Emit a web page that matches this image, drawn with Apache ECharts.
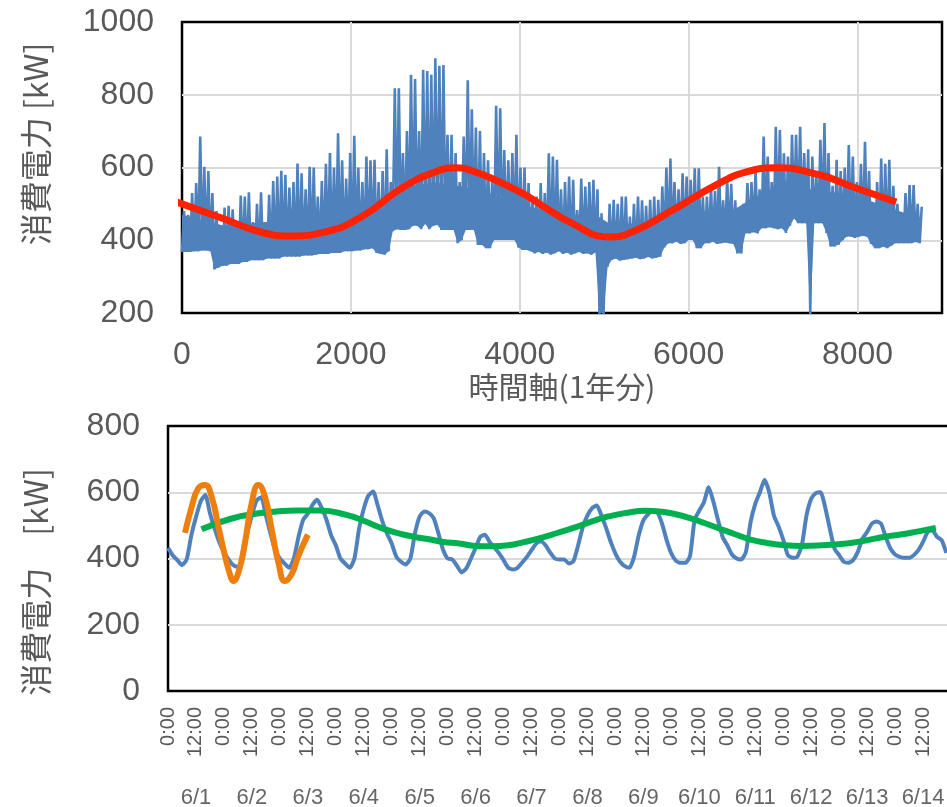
<!DOCTYPE html>
<html><head><meta charset="utf-8">
<script src="https://cdn.jsdelivr.net/npm/echarts@6/dist/echarts.min.js"></script>
<style>html,body{margin:0;padding:0;background:#fff}#c{width:947px;height:807px}</style>
</head><body><div id="c"></div>
<script>
// ---- Top chart: one year of hourly load, read as low/high pairs every 48 h ----
const YEAR_STEP = 48;
const yearLow = [
368,368,368,370,370,372,372,370,320,325,
330,330,335,335,335,340,340,345,345,345,
345,350,350,350,350,355,355,355,355,355,
358,358,358,360,362,362,362,365,365,365,
370,370,370,372,372,375,375,378,365,362,
360,370,425,430,428,428,430,440,440,430,
445,430,440,442,428,428,428,428,392,400,
428,428,428,387,387,378,378,401,401,401,
401,401,401,380,373,373,370,364,368,362,
366,360,364,370,362,366,360,364,368,362,
364,360,366,195,195,327,346,350,344,346,
348,350,352,348,350,354,350,352,355,380,
392,392,396,390,392,401,401,378,378,392,
392,396,390,392,394,392,390,364,364,419,
419,422,419,433,433,436,433,430,433,420,
440,460,447,447,447,195,447,447,447,420,
383,383,388,400,410,410,406,410,412,410,
390,378,378,382,378,385,392,392,392,392,
392,395,392];
const yearHigh = [
480,470,530,557,685,602,590,530,480,440,
490,495,485,400,523,520,532,450,500,532,
450,525,563,575,591,580,545,560,611,584,
540,602,600,520,563,610,640,600,694,620,
570,640,687,600,560,630,620,621,560,590,
650,560,818,818,640,700,855,843,700,869,
865,855,900,880,882,690,690,640,560,685,
840,760,710,700,640,620,560,770,763,648,
620,640,690,600,600,557,520,520,557,530,
639,630,621,540,560,575,566,483,570,548,
560,566,540,474,440,500,511,500,520,520,
465,500,520,510,495,511,520,511,548,600,
625,560,540,584,575,566,598,598,520,520,
548,535,602,510,575,555,510,447,500,557,
560,593,540,685,630,560,712,703,639,630,
690,690,712,640,650,630,575,676,722,640,
550,621,590,600,662,630,560,610,671,590,
500,560,625,610,621,550,500,440,530,552,
552,500,492];
// top of the dense (solid) part of the band, read coarsely
const coreHours = [0,500,1000,1500,2000,2400,2500,3000,3500,4000,4500,4900,5100,5500,6000,6500,6800,7000,7500,8000,8500,8760];
const coreTop   = [470,440,450,460,480,500,540,560,540,500,470,470,440,450,480,480,520,540,540,520,480,460];
// red seasonal curve drawn over the top chart
const trendHours  = [-60,470,940,1280,1700,2150,2600,3000,3250,3407,4000,4294,4590,5063,5383,5773,6365,6684,7015,7548,7938,8458];
const trendValues = [505,461,422,412,423,468,543,588,599,593,533,491,450,409,428,478,557,588,599,580,547,505];

// ---- Bottom chart: two weeks (6/1 - 6/14), read every 2 hours ----
const WEEK_STEP = 2;
const weekValues = [
432,410,395,380,397,470,525,572,592,537,490,450,
420,397,380,375,397,475,530,575,585,530,475,425,
400,385,372,400,465,517,535,562,577,552,517,470,
440,400,385,372,400,490,550,590,602,560,512,475,
445,405,390,382,400,477,527,542,537,522,477,427,
400,397,378,358,370,400,432,465,472,450,434,416,
395,372,367,372,388,405,425,445,452,440,418,400,
397,397,385,392,440,495,530,552,560,530,492,450,
415,390,377,372,405,470,515,533,545,540,505,455,
415,393,387,387,407,517,545,570,615,572,517,465,
440,412,400,397,420,510,565,600,638,600,530,497,
457,410,402,405,440,530,580,597,600,555,490,430,
410,390,387,395,420,460,480,505,512,505,465,430,
412,405,402,402,410,425,450,480,485,465,455,417];
// orange daily curve
const dailyHours  = [7.3,10.2,13,15.9,18.7,21.6,24.5,26.6,28,30.2,33,35.9,38.8,41.6,44.5,47.4,50.2,53,55.9,60];
const dailyValues = [477,557,612,622,587,497,407,352,332,357,447,567,622,587,487,387,332,352,407,472];
// green weekly curve
const weeklyHours  = [14.4,27,41,55,65,77,85,92,99,106,112,118,125,132,139,146,153,160,167,175,182,189,196,205,211,217,224,236,243,250,257,265,272,279,286,293,300,307,315,322,329.5];
const weeklyValues = [488,520,538,545,545,531,511,491,476,465,458,450,445,438,437,440,450,462,477,495,512,527,537,544,542,535,522,492,474,457,447,440,438,439,442,447,455,465,473,482,492];
const dayLabels = ['6/1','6/2','6/3','6/4','6/5','6/6','6/7','6/8','6/9','6/10','6/11','6/12','6/13','6/14'];

// ---- build series data ----
const yearData = [];
yearLow.forEach((lo, i) => {
  yearData.push([i * YEAR_STEP, lo]);
  yearData.push([i * YEAR_STEP + YEAR_STEP / 2, yearHigh[i]]);
});
const lowPts = yearLow.map((lo, i) => [i * YEAR_STEP, lo]);
const corePts = coreHours.map((h, i) => [h, coreTop[i]]);
const trendData = trendHours.map((h, i) => [h, trendValues[i]]);
const weekData = weekValues.map((v, i) => [i * WEEK_STEP, v]);
const dailyData = dailyHours.map((h, i) => [h, dailyValues[i]]);
const weeklyData = weeklyHours.map((h, i) => [h, weeklyValues[i]]);

const grey = '#595959';
const blue = '#4f81bd';
const numFont = "'Liberation Sans', Arial, sans-serif";
const jpFont = "'Noto Sans CJK JP', sans-serif";
const gridLine = {show: true, showMinLine: false, showMaxLine: false, lineStyle: {color: '#d9d9d9', width: 2}};
const plain = v => String(v);

const chart = echarts.init(document.getElementById('c'), null, {renderer: 'canvas'});
chart.setOption({
  animation: false,
  backgroundColor: '#ffffff',
  grid: [
    {left: 182, top: 22, width: 760, height: 291, show: true, borderColor: '#000', borderWidth: 2.5, containLabel: false, outerBoundsMode: 'none'},
    {left: 168, top: 426, width: 783, height: 265, show: true, borderColor: '#000', borderWidth: 2.5, containLabel: false, outerBoundsMode: 'none'}
  ],
  xAxis: [
    {gridIndex: 0, type: 'value', min: 0, max: 9000, interval: 2000,
     axisLine: {show: false}, axisTick: {show: false}, splitLine: gridLine,
     axisLabel: {fontSize: 32, color: grey, margin: 26, fontFamily: numFont,
                 formatter: v => (v % 2000 === 0 ? String(v) : '')},
     name: '時間軸(1年分)', nameLocation: 'middle', nameGap: 48,
     nameTextStyle: {fontSize: 30, color: grey, fontFamily: jpFont}},
    {gridIndex: 1, type: 'value', min: 0, max: 336, interval: 12,
     axisLine: {show: false}, axisTick: {show: false}, splitLine: {show: false},
     axisLabel: {rotate: 90, fontSize: 20, color: grey, margin: 16, fontFamily: numFont,
                 showMaxLabel: false,
                 formatter: v => (v >= 336 ? '' : (v % 24 === 0 ? '0:00' : '12:00'))}},
    {gridIndex: 1, type: 'category', position: 'bottom', offset: 88, data: dayLabels, boundaryGap: true,
     axisLine: {show: false}, axisTick: {show: false}, splitLine: {show: false},
     axisLabel: {interval: 0, fontSize: 22, color: '#666', margin: 8, fontFamily: numFont}}
  ],
  yAxis: [
    {gridIndex: 0, type: 'value', min: 200, max: 1000, interval: 200,
     axisLine: {show: false}, axisTick: {show: false}, splitLine: gridLine,
     axisLabel: {fontSize: 32, color: grey, margin: 28, fontFamily: numFont, formatter: plain}},
    {gridIndex: 1, type: 'value', min: 0, max: 800, interval: 200,
     axisLine: {show: false}, axisTick: {show: false}, splitLine: gridLine,
     axisLabel: {fontSize: 32, color: grey, margin: 28, fontFamily: numFont, formatter: plain}}
  ],
  graphic: [
    {type: 'text', x: 36, y: 144, rotation: Math.PI / 2,
     style: {text: '消費電力 [kW]', font: "32px 'Noto Sans CJK JP', sans-serif", fill: grey, align: 'center', verticalAlign: 'middle'}},
    {type: 'text', x: 36, y: 582, rotation: Math.PI / 2,
     style: {text: '消費電力　[kW]', font: "32px 'Noto Sans CJK JP', sans-serif", fill: grey, align: 'center', verticalAlign: 'middle'}}
  ],
  series: [
    {type: 'custom', xAxisIndex: 0, yAxisIndex: 0, data: [[0, 0]], z: 1, silent: true,
     renderItem: (params, api) => {
       const pts = lowPts.map(p => api.coord(p)).concat(corePts.slice().reverse().map(p => api.coord(p)));
       const cs = params.coordSys;
       return {type: 'polygon', shape: {points: pts}, style: {fill: blue},
               clipPath: {type: 'rect', shape: {x: cs.x, y: cs.y, width: cs.width, height: cs.height}}};
     }},
    {type: 'line', xAxisIndex: 0, yAxisIndex: 0, data: yearData, showSymbol: false, symbol: 'none',
     lineStyle: {color: blue, width: 2.6}, z: 2},
    {type: 'line', xAxisIndex: 0, yAxisIndex: 0, data: trendData, showSymbol: false, symbol: 'none', smooth: true,
     clip: false, lineStyle: {color: '#ff2200', width: 7}, z: 3},
    {type: 'line', xAxisIndex: 1, yAxisIndex: 1, data: weekData, showSymbol: false, symbol: 'none', smooth: 0.2,
     lineStyle: {color: blue, width: 4}, z: 2},
    {type: 'line', xAxisIndex: 1, yAxisIndex: 1, data: weeklyData, showSymbol: false, symbol: 'none', smooth: true,
     lineStyle: {color: '#00b050', width: 6}, z: 3},
    {type: 'line', xAxisIndex: 1, yAxisIndex: 1, data: dailyData, showSymbol: false, symbol: 'none', smooth: true,
     lineStyle: {color: '#ee7f0e', width: 6}, z: 4}
  ]
});
</script>
</body></html>
